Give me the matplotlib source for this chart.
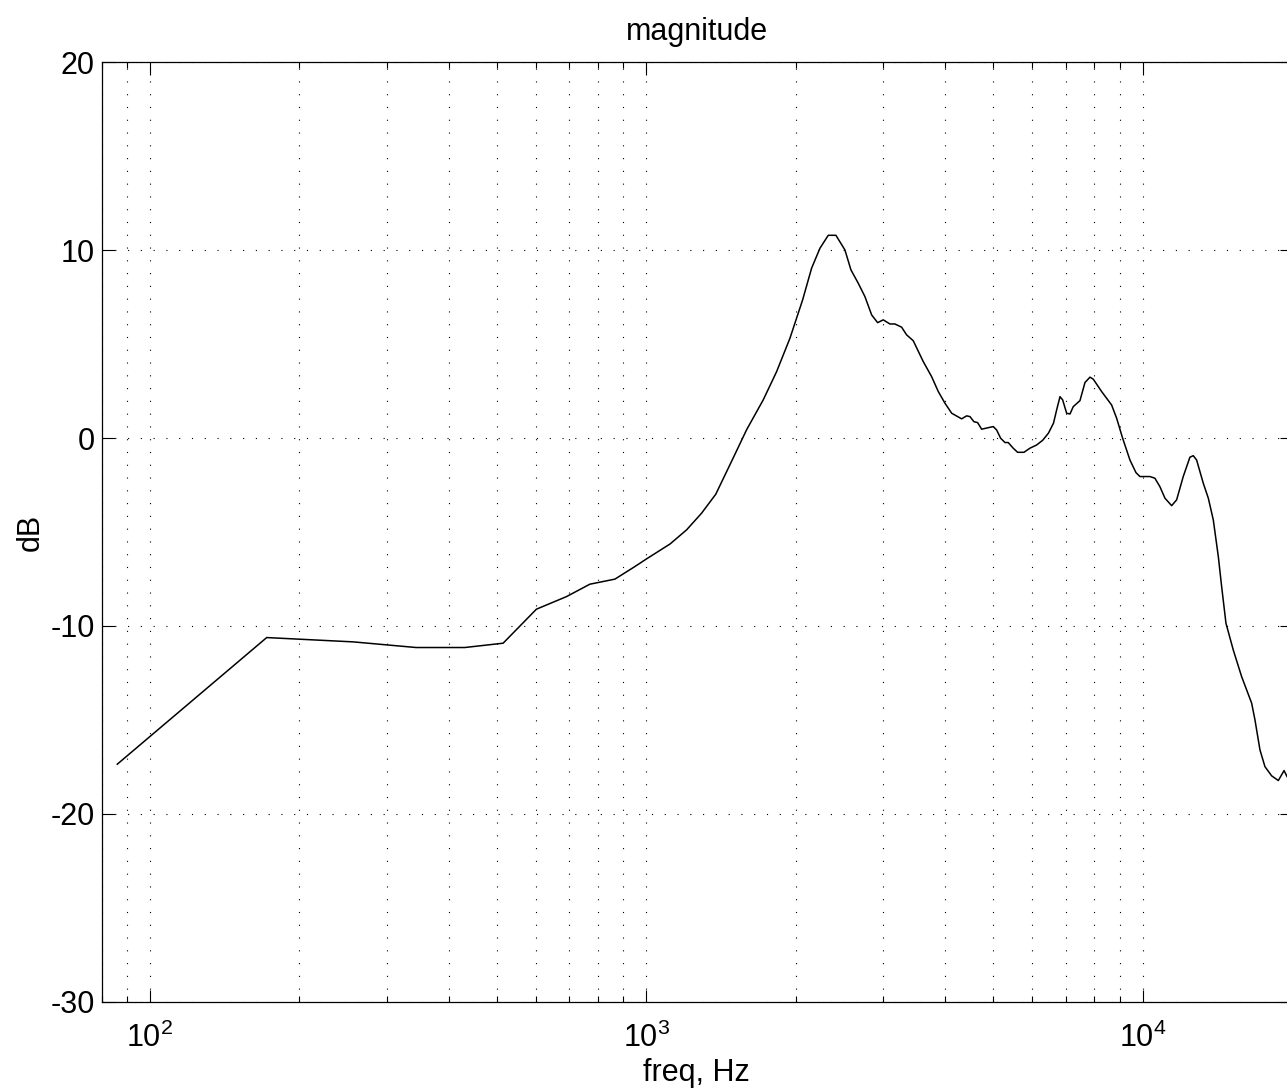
import numpy as np
import matplotlib
matplotlib.use('Agg')
import matplotlib.pyplot as plt
from matplotlib.ticker import LogLocator, FuncFormatter, NullFormatter

# data
freq_hz = [86, 172, 257, 344, 431, 515, 601, 691, 770, 865, 949, 1002, 1117, 1206,
           1293, 1381, 1496, 1594, 1721, 1831, 1948, 2066, 2154, 2239, 2327, 2411,
           2514, 2585, 2674, 2758, 2846, 2926, 3003, 3097, 3170, 3270, 3347, 3451,
           3615, 3758, 3877, 3999, 4125, 4320, 4421, 4490, 4573, 4653, 4740, 5002,
           5081, 5176, 5282, 5362, 5487, 5600, 5768, 5931, 6118, 6291, 6462, 6615,
           6713, 6817, 6902, 7031, 7141, 7250, 7479, 7654, 7834, 7957, 8271, 8661,
           8867, 9116, 9430, 9697, 9877, 10346, 10588, 10837, 11092, 11443, 11711,
           12075, 12456, 12651, 12848, 13253, 13564, 13882, 14209, 14430, 14722,
           15229, 15832, 16584, 16841, 17237, 17640, 18197, 18768, 19275, 19543]
mag_db = [-17.36, -10.62, -10.85, -11.15, -11.15, -10.92, -9.11, -8.44, -7.78, -7.51,
          -6.84, -6.43, -5.64, -4.89, -4.00, -2.99, -1.08, 0.45, 2.03, 3.53, 5.31,
          7.35, 9.04, 10.10, 10.79, 10.79, 10.01, 8.95, 8.24, 7.53, 6.55, 6.14, 6.29,
          6.07, 6.07, 5.90, 5.49, 5.18, 4.07, 3.27, 2.47, 1.85, 1.32, 1.02, 1.18, 1.14,
          0.87, 0.82, 0.47, 0.61, 0.43, -0.01, -0.24, -0.24, -0.54, -0.76, -0.76,
          -0.54, -0.37, -0.12, 0.26, 0.79, 1.50, 2.20, 2.03, 1.32, 1.28, 1.67, 1.99,
          2.95, 3.24, 3.13, 2.47, 1.76, 1.05, -0.01, -1.17, -1.84, -2.05, -2.05,
          -2.14, -2.59, -3.20, -3.60, -3.29, -2.05, -1.02, -0.94, -1.17, -2.41,
          -3.20, -4.36, -6.31, -7.91, -9.86, -11.28, -12.70, -14.11, -15.00, -16.60,
          -17.49, -17.98, -18.23, -17.70, -18.02]
y_ticks = [-30, -20, -10, 0, 10, 20]

plt.rcParams['font.family'] = ['Liberation Sans', 'DejaVu Sans']
plt.rcParams['mathtext.fontset'] = 'custom'
plt.rcParams['mathtext.rm'] = 'Liberation Sans'
plt.rcParams['mathtext.it'] = 'Liberation Sans'

fig = plt.figure(figsize=(12.87, 10.92), dpi=100)
# axes runs a little past the right edge, as in the reference
ax = fig.add_axes([0.0790, 0.0827, 0.9249, 0.8603])

ax.plot(freq_hz, mag_db, color='k', linewidth=1.1)

ax.set_xscale('log')
ax.set_xlim(80, 20000)
ax.set_ylim(-30, 20)
ax.set_yticks(y_ticks)
ax.set_yticklabels([str(v) for v in y_ticks])

ax.xaxis.set_major_locator(LogLocator(base=10, numticks=10))
ax.xaxis.set_minor_locator(LogLocator(base=10, subs=np.arange(2, 10), numticks=20))
ax.xaxis.set_major_formatter(FuncFormatter(lambda v, p: r'$\mathregular{10^{%d}}$' % round(np.log10(v))))
ax.xaxis.set_minor_formatter(NullFormatter())

dots = (0, (1, 10.5))
ax.grid(True, which='major', axis='both', color='k', linestyle=dots, linewidth=0.8)
ax.grid(True, which='minor', axis='x', color='k', linestyle=dots, linewidth=0.8)

ax.tick_params(which='both', direction='in', top=True, right=True, width=0.8)
ax.tick_params(which='major', length=9, labelsize=22)
ax.tick_params(which='minor', length=4.5)
ax.tick_params(axis='x', which='major', pad=15)
ax.tick_params(axis='y', which='major', pad=5)
for s in ax.spines.values():
    s.set_linewidth(0.9)

ax.set_title('magnitude', fontsize=22, pad=16)
ax.set_xlabel('freq, Hz', fontsize=22, labelpad=3)
ax.set_ylabel('dB', fontsize=22, labelpad=3)

fig.savefig('out.png', dpi=100)
